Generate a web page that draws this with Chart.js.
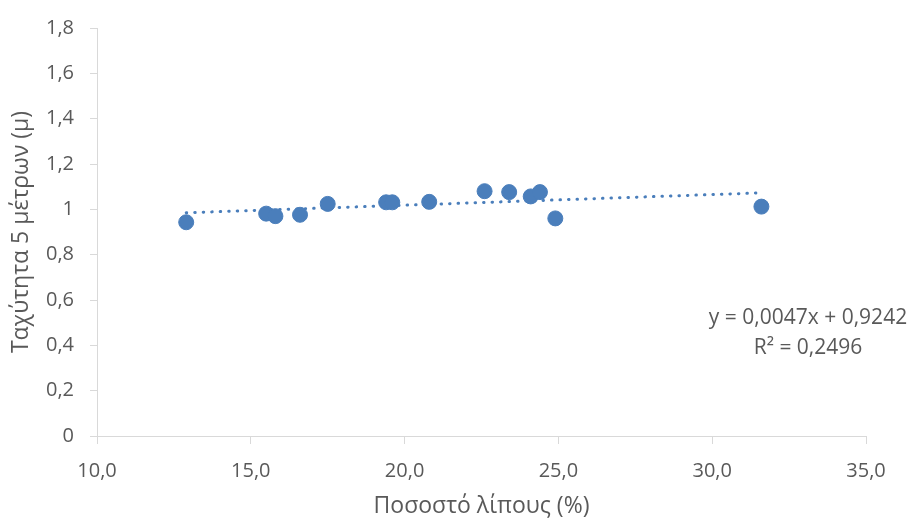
<!DOCTYPE html>
<html>
<head>
<meta charset="utf-8">
<script src="https://cdn.jsdelivr.net/npm/chart.js@4"></script>
<style>
  html, body { margin: 0; padding: 0; background: #fff; }
  #wrap { width: 911px; height: 520px; }
</style>
</head>
<body>
<div id="wrap"><canvas id="myChart" width="911" height="520"></canvas></div>
<script>
// Ποσοστό λίπους (%)
const fatPercent = [12.9, 15.5, 15.8, 16.6, 17.5, 19.4, 19.6, 20.8, 22.6, 23.4, 24.1, 24.4, 24.9, 31.6];
// Ταχύτητα 5 μέτρων
const speed5m = [0.943, 0.981, 0.970, 0.976, 1.024, 1.031, 1.031, 1.033, 1.080, 1.076, 1.057, 1.076, 0.960, 1.012];
// γραμμή τάσης (από την εξίσωση του γραφήματος)
const trendSlope = 0.0047;
const trendIntercept = 0.9242;
const trendLabel = ['y = 0,0047x + 0,9242', 'R² = 0,2496'];

const xTicks = [10, 15, 20, 25, 30, 35];
const yTicks = [0, 0.2, 0.4, 0.6, 0.8, 1, 1.2, 1.4, 1.6, 1.8];

const blue = '#4a7ebb';
const grey = '#595959';
const axisGrey = '#d9d9d9';
const font = "'Open Sans', sans-serif";

const points = fatPercent.map((x, i) => ({ x: x, y: speed5m[i] }));
const xMin = Math.min(...fatPercent);
const xMax = Math.max(...fatPercent);
const trend = [
    { x: xMin, y: trendSlope * xMin + trendIntercept },
    { x: xMax, y: trendSlope * xMax + trendIntercept }
];

const commaFmt = (v, d) => v.toFixed(d).replace('.', ',');

// κείμενο εξίσωσης
const equationText = {
    id: 'equationText',
    afterDraw(chart) {
        const c = chart.ctx;
        c.save();
        c.font = '21px ' + font;
        c.fillStyle = grey;
        c.textAlign = 'center';
        c.textBaseline = 'middle';
        c.fillText(trendLabel[0], 808, 318);
        c.fillText(trendLabel[1], 808, 348);
        c.restore();
    }
};

new Chart(document.getElementById('myChart').getContext('2d'), {
    type: 'scatter',
    data: {
        datasets: [{
            label: 'Ταχύτητα',
            data: points,
            backgroundColor: blue,
            borderColor: blue,
            pointRadius: 7.5,
            pointHoverRadius: 7.5,
            order: 1
        }, {
            label: 'Τάση',
            type: 'line',
            data: trend,
            borderColor: blue,
            borderWidth: 3,
            borderDash: [0.5, 8],
            borderCapStyle: 'round',
            pointRadius: 0,
            fill: false,
            order: 2
        }]
    },
    options: {
        responsive: false,
        animation: false,
        layout: { padding: { top: 25, right: 45, left: 0, bottom: 0 } },
        plugins: {
            legend: { display: false },
            tooltip: { enabled: false }
        },
        scales: {
            x: {
                type: 'linear',
                min: 10,
                max: 35,
                afterBuildTicks: (axis) => { axis.ticks = xTicks.map(v => ({ value: v })); },
                afterFit: (axis) => { axis.height = 84; },
                grid: { display: true, drawOnChartArea: false, drawTicks: true, tickLength: 8, color: axisGrey },
                border: { color: axisGrey, width: 1 },
                ticks: {
                    color: grey,
                    font: { family: font, size: 20 },
                    padding: 15,
                    callback: (v) => commaFmt(v, 1)
                },
                title: {
                    display: true,
                    text: 'Ποσοστό λίπους (%)',
                    color: grey,
                    font: { family: font, size: 23 },
                    padding: { top: 6, bottom: 0 }
                }
            },
            y: {
                min: 0,
                max: 1.8,
                afterBuildTicks: (axis) => { axis.ticks = yTicks.map(v => ({ value: v })); },
                afterFit: (axis) => { axis.width = 97; },
                grid: { display: true, drawOnChartArea: false, drawTicks: true, tickLength: 7, color: axisGrey },
                border: { color: axisGrey, width: 1 },
                ticks: {
                    color: grey,
                    font: { family: font, size: 20 },
                    padding: 16,
                    callback: (v) => (Number.isInteger(v) ? String(v) : commaFmt(v, 1))
                },
                title: {
                    display: true,
                    text: 'Ταχύτητα 5 μέτρων (μ)',
                    color: grey,
                    font: { family: font, size: 23 },
                    padding: { top: 8, bottom: 4 }
                }
            }
        }
    },
    plugins: [equationText]
});
</script>
</body>
</html>
